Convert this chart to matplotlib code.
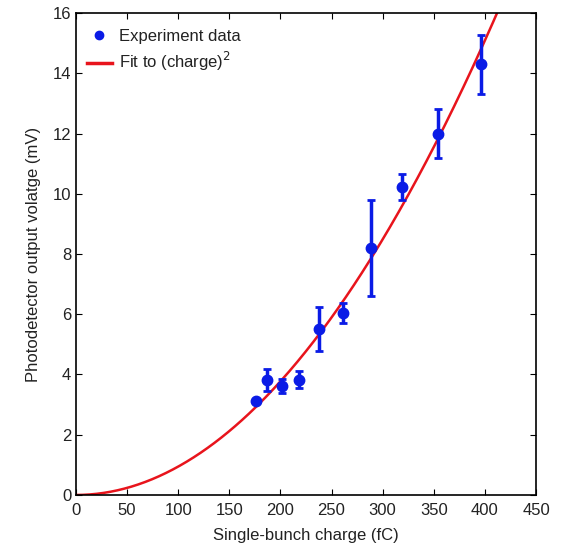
import numpy as np
import matplotlib.pyplot as plt
from matplotlib.lines import Line2D

plt.rcParams['font.family'] = ['Liberation Sans', 'DejaVu Sans']
plt.rcParams['mathtext.fontset'] = 'custom'
plt.rcParams['mathtext.rm'] = 'Liberation Sans'
plt.rcParams['text.color'] = '#222222'
plt.rcParams['axes.labelcolor'] = '#222222'

# data
charge = [176, 187, 201.5, 218, 238, 261, 288.5, 319, 354, 396]
voltage = [3.12, 3.82, 3.62, 3.82, 5.51, 6.04, 8.2, 10.22, 12.0, 14.3]
err = [0.08, 0.36, 0.24, 0.28, 0.72, 0.33, 1.6, 0.43, 0.8, 0.98]

fit_coef = 9.43e-5  # mV / fC^2
q_fit = np.linspace(0, 450, 400)
v_fit = fit_coef * q_fit ** 2

fig = plt.figure(figsize=(5.65, 5.49), dpi=100)
ax = fig.add_axes([0.1345, 0.0984, 0.8142, 0.8779])

ax.plot(q_fit, v_fit, color='#e8141c', linewidth=1.8, zorder=2)
ax.errorbar(charge, voltage, yerr=err, fmt='o', color='#0a1be6',
            markersize=7.5, elinewidth=2.5, capsize=3, capthick=2, zorder=3)

ax.set_xlim(0, 450)
ax.set_ylim(0, 16)
ax.set_xticks(np.arange(0, 451, 50))
ax.set_yticks(np.arange(0, 17, 2))
ax.tick_params(direction='in', top=True, right=True, labelsize=12, length=4,
               labelcolor='#222222')
ax.tick_params(axis='x', pad=6)
for s in ax.spines.values():
    s.set_linewidth(1.2)

ax.set_xlabel("Single-bunch charge (fC)", fontsize=12, labelpad=7)
ax.set_ylabel("Photodetector output volatge (mV)", fontsize=12, labelpad=8)

handles = [Line2D([], [], marker='o', linestyle='none', color='#0a1be6', markersize=6),
           Line2D([], [], color='#e8141c', linewidth=2.5)]
ax.legend(handles, ["Experiment data", "Fit to (charge)$^{\\mathsf{2}}$"], loc='upper left',
          bbox_to_anchor=(0, 0.99), frameon=False, fontsize=12, handlelength=1.5,
          handletextpad=0.45, borderaxespad=0.25, labelspacing=0.4)

fig.savefig("out.png", dpi=100)
